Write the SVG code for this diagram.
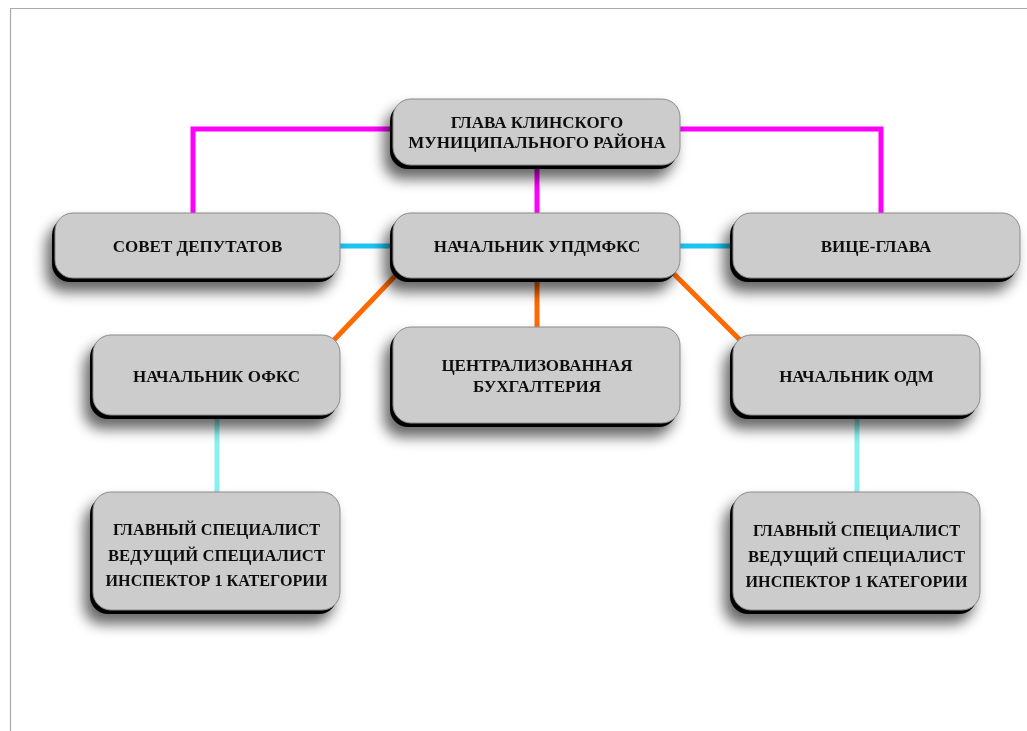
<svg xmlns="http://www.w3.org/2000/svg" width="1027" height="731" viewBox="0 0 1027 731">
<defs>
<filter id="sh" x="-20%" y="-30%" width="140%" height="170%">
<feGaussianBlur in="SourceAlpha" stdDeviation="7"/>
<feOffset dx="-6" dy="10" result="b"/>
<feComponentTransfer><feFuncA type="linear" slope="0.6"/></feComponentTransfer>
<feMerge><feMergeNode/><feMergeNode in="SourceGraphic"/></feMerge>
</filter>
</defs>
<style>
.bk{fill:#000}
.bx{fill:#cccccc;stroke:#8a8a8a;stroke-width:1}
.t{font-family:"Liberation Serif","Times New Roman",serif;font-weight:bold;font-size:17px;fill:#111;text-anchor:middle}
.mg{stroke:#ff00ff;stroke-width:5;fill:none}
.cy{stroke:#1cc4f2;stroke-width:5;fill:none}
.or{stroke:#ff6a00;stroke-width:5;fill:none}
.lc{stroke:#88f0f0;stroke-width:5;fill:none}
</style>
<rect width="1027" height="731" fill="#fff"/>
<path d="M10.5 731 V8.5 H1027" fill="none" stroke="#aaa" stroke-width="1.2"/>
<g id="connectors">
<path class="mg" d="M393 129 H193 V213"/>
<path class="mg" d="M680 129 H881 V213"/>
<path class="mg" d="M537 165 V213"/>
<path class="cy" d="M340 246 H393"/>
<path class="cy" d="M680 246 H733"/>
<path class="or" d="M395 276 L333 341"/>
<path class="or" d="M537 278 V327"/>
<path class="or" d="M673 273 L740 340"/>
<path class="lc" d="M217 415 V492"/>
<path class="lc" d="M857 415 V492"/>
</g>
<g id="n-glava" filter="url(#sh)">
<rect class="bk" x="390" y="103" width="287" height="66" rx="18"/>
<rect class="bx" x="393" y="99" width="287" height="66" rx="18"/>
<text class="t" x="537" y="128">ГЛАВА КЛИНСКОГО</text>
<text class="t" x="537" y="148">МУНИЦИПАЛЬНОГО РАЙОНА</text>
</g>
<g id="n-sovet" filter="url(#sh)">
<rect class="bk" x="52" y="217" width="285" height="65" rx="18"/>
<rect class="bx" x="55" y="213" width="285" height="65" rx="18"/>
<text class="t" x="197.5" y="252">СОВЕТ ДЕПУТАТОВ</text>
</g>
<g id="n-upd" filter="url(#sh)">
<rect class="bk" x="390" y="217" width="287" height="65" rx="18"/>
<rect class="bx" x="393" y="213" width="287" height="65" rx="18"/>
<text class="t" x="537" y="252">НАЧАЛЬНИК УПДМФКС</text>
</g>
<g id="n-vice" filter="url(#sh)">
<rect class="bk" x="730" y="217" width="287" height="65" rx="18"/>
<rect class="bx" x="733" y="213" width="287" height="65" rx="18"/>
<text class="t" x="876" y="252">ВИЦЕ-ГЛАВА</text>
</g>
<g id="n-ofks" filter="url(#sh)">
<rect class="bk" x="90" y="339" width="247" height="80" rx="18"/>
<rect class="bx" x="93" y="335" width="247" height="80" rx="18"/>
<text class="t" x="216.5" y="382">НАЧАЛЬНИК ОФКС</text>
</g>
<g id="n-buh" filter="url(#sh)">
<rect class="bk" x="390" y="331" width="287" height="96" rx="18"/>
<rect class="bx" x="393" y="327" width="287" height="96" rx="18"/>
<text class="t" x="537" y="371">ЦЕНТРАЛИЗОВАННАЯ</text>
<text class="t" x="537" y="392">БУХГАЛТЕРИЯ</text>
</g>
<g id="n-odm" filter="url(#sh)">
<rect class="bk" x="730" y="339" width="247" height="80" rx="18"/>
<rect class="bx" x="733" y="335" width="247" height="80" rx="18"/>
<text class="t" x="856.5" y="382">НАЧАЛЬНИК ОДМ</text>
</g>
<g id="n-spec-left" filter="url(#sh)">
<rect class="bk" x="90" y="496" width="247" height="118" rx="18"/>
<rect class="bx" x="93" y="492" width="247" height="118" rx="18"/>
<text class="t" x="216.5" y="535" textLength="207" lengthAdjust="spacingAndGlyphs">ГЛАВНЫЙ СПЕЦИАЛИСТ</text>
<text class="t" x="216.5" y="561" textLength="217" lengthAdjust="spacingAndGlyphs">ВЕДУЩИЙ СПЕЦИАЛИСТ</text>
<text class="t" x="216.5" y="586" textLength="222" lengthAdjust="spacingAndGlyphs">ИНСПЕКТОР 1 КАТЕГОРИИ</text>
</g>
<g id="n-spec-right" filter="url(#sh)">
<rect class="bk" x="730" y="496" width="247" height="118" rx="18"/>
<rect class="bx" x="733" y="492" width="247" height="118" rx="18"/>
<text class="t" x="856.5" y="536" textLength="207" lengthAdjust="spacingAndGlyphs">ГЛАВНЫЙ СПЕЦИАЛИСТ</text>
<text class="t" x="856.5" y="562" textLength="217" lengthAdjust="spacingAndGlyphs">ВЕДУЩИЙ СПЕЦИАЛИСТ</text>
<text class="t" x="856.5" y="587" textLength="222" lengthAdjust="spacingAndGlyphs">ИНСПЕКТОР 1 КАТЕГОРИИ</text>
</g>
</svg>
